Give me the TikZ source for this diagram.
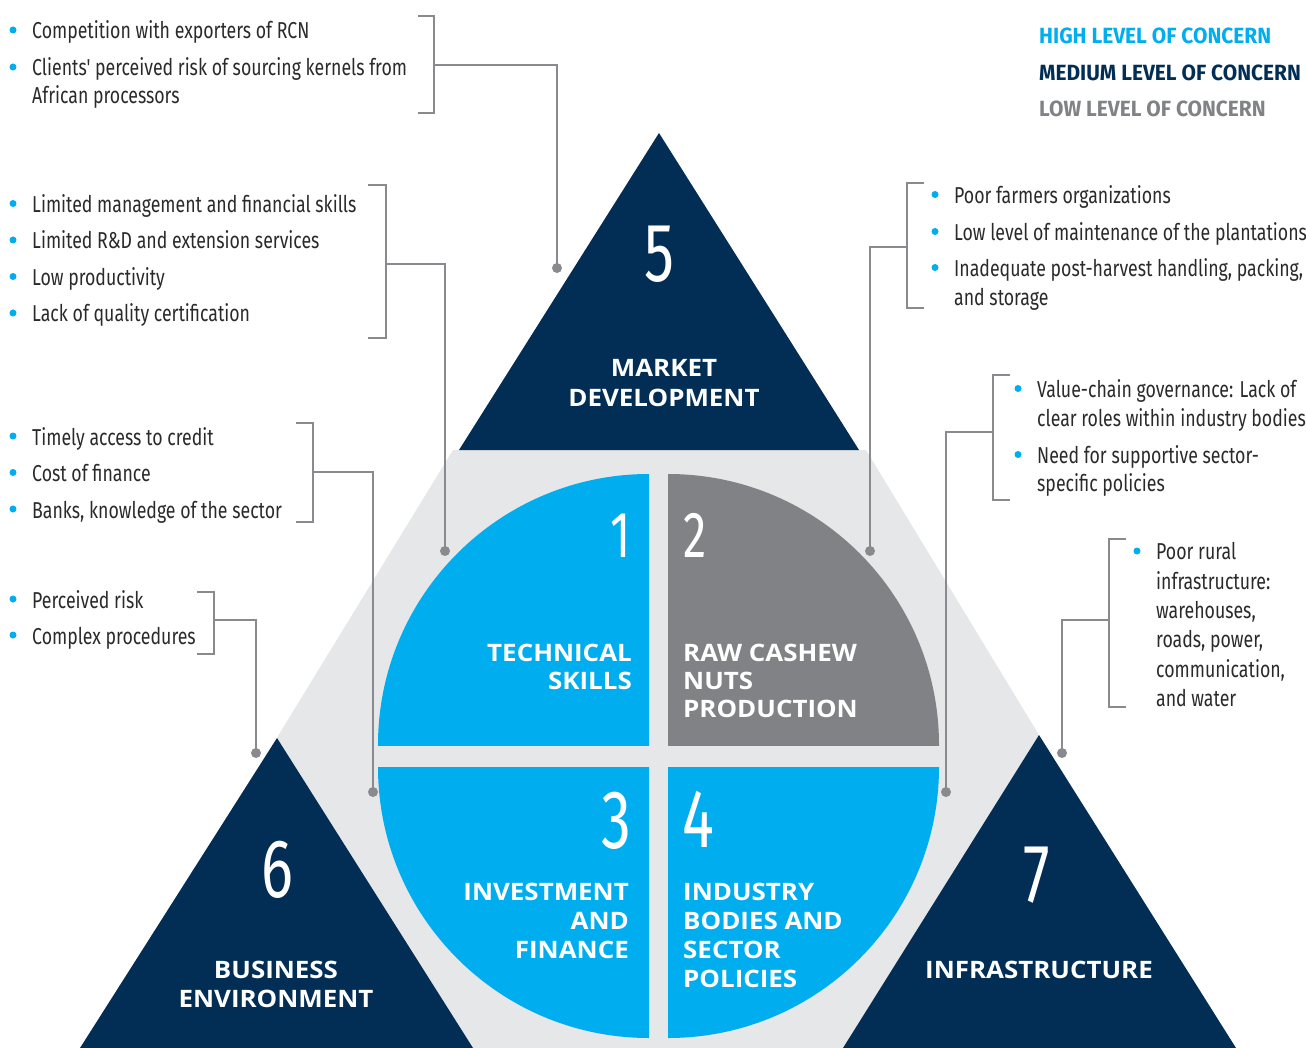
\documentclass[tikz,border=0pt]{standalone}
\usepackage{fontspec}
\newfontfamily\bodyf{Fira Sans}[FakeStretch=0.77]
\newfontfamily\legf{Fira Sans}[FakeStretch=0.95]
\newfontfamily\numf{Fira Sans}[FakeStretch=0.72]
\newfontfamily\headf{Open Sans}[FakeStretch=1.08]
\definecolor{navy}{HTML}{022E55}
\definecolor{hiblue}{HTML}{00AEEF}
\definecolor{qgray}{HTML}{808285}
\definecolor{bggray}{HTML}{E6E7E8}
\definecolor{lgray}{HTML}{898A8D}
\definecolor{txtc}{HTML}{2A2A2A}
\tikzset{
  txt/.style={anchor=base west, inner sep=0pt, text=txtc, font=\bodyf\fontsize{23}{29}\selectfont},
  bul/.style={fill=hiblue},
  conn/.style={draw=lgray, line width=2.4pt},
  dotc/.style={fill=lgray},
  head/.style={inner sep=0pt, text=white, font=\headf\bfseries\fontsize{24}{28}\selectfont},
  bignum/.style={inner sep=0pt, text=white, font=\numf\fontsize{83}{90}\selectfont},
  smallnum/.style={inner sep=0pt, text=white, font=\numf\fontsize{65}{70}\selectfont},
  leg/.style={anchor=base west, inner sep=0pt, font=\legf\bfseries\fontsize{22}{26}\selectfont},
}
\begin{document}
\begin{tikzpicture}[x=1pt,y=-1pt]
\useasboundingbox (0,0) rectangle (1306,1048);
\clip (0,0) rectangle (1306,1048);
% background grey band
\fill[bggray] (453,450) -- (866,450) -- (1229,1048) -- (87,1048) -- cycle;
% quadrants
\begin{scope}\clip (378,474) rectangle (649,745); \fill[hiblue] (649,745) circle[radius=271pt];\end{scope}
\begin{scope}\clip (668,474) rectangle (939,745); \fill[qgray] (668,745) circle[radius=271pt];\end{scope}
\begin{scope}\clip (378,767) rectangle (649,1038); \fill[hiblue] (649,767) circle[radius=271pt];\end{scope}
\begin{scope}\clip (668,767) rectangle (939,1038); \fill[hiblue] (668,767) circle[radius=271pt];\end{scope}
% triangles
\fill[navy] (659,133) -- (459,450) -- (859,450) -- cycle;
\fill[navy] (277,738) -- (80,1048) -- (473,1048) -- cycle;
\fill[navy] (1039,735) -- (843,1048) -- (1236,1048) -- cycle;

% numbers
\node[bignum, anchor=base] (n5) at (659,282) {5};
\node[bignum, anchor=base] (n6) at (277,897) {6};
\node[bignum, anchor=base] (n7) at (1037,902) {7};
\node[smallnum, anchor=base east] (n1) at (631,557) {1};
\node[smallnum, anchor=base west] (n2) at (683,557) {2};
\node[bignum, anchor=base east] (n3) at (632,848) {3};
\node[bignum, anchor=base west] (n4) at (682,847) {4};

% headings
\node[head, anchor=base] (h5a) at (664,377) {MARKET};
\node[head, anchor=base] (h5b) at (664,406) {DEVELOPMENT};
\node[head, anchor=base] (h6a) at (276,978) {BUSINESS};
\node[head, anchor=base] (h6b) at (276,1007) {ENVIRONMENT};
\node[head, anchor=base] (h7a) at (1039,978) {INFRASTRUCTURE};
\node[head, anchor=base east] (h1a) at (632,661) {TECHNICAL};
\node[head, anchor=base east] (h1b) at (632,689) {SKILLS};
\node[head, anchor=base west] (h2a) at (683,661) {RAW CASHEW};
\node[head, anchor=base west] (h2b) at (683,689) {NUTS};
\node[head, anchor=base west] (h2c) at (683,717) {PRODUCTION};
\node[head, anchor=base east] (h3a) at (629,900) {INVESTMENT};
\node[head, anchor=base east] (h3b) at (629,929) {AND};
\node[head, anchor=base east] (h3c) at (629,958) {FINANCE};
\node[head, anchor=base west] (h4a) at (683,900) {INDUSTRY};
\node[head, anchor=base west] (h4b) at (683,929) {BODIES AND};
\node[head, anchor=base west] (h4c) at (683,958) {SECTOR};
\node[head, anchor=base west] (h4d) at (683,987) {POLICIES};

% legend
\node[leg, text=hiblue] (lg1) at (1039,44) {HIGH LEVEL OF CONCERN};
\node[leg, text=navy] (lg2) at (1039,81) {MEDIUM LEVEL OF CONCERN};
\node[leg, text=qgray] (lg3) at (1039,117) {LOW LEVEL OF CONCERN};

% ---- left text groups
\node[txt] (a1) at (32,39) {Competition with exporters of RCN};
\node[txt] (a2) at (32,76) {Clients' perceived risk of sourcing kernels from};
\node[txt] (a3) at (32,104) {African processors};
\fill[bul] (13,30) circle[radius=3.5pt] (13,67) circle[radius=3.5pt];

\node[txt] (b1) at (32,212.5) {Limited management and financial skills};
\node[txt] (b2) at (32,249) {Limited R\&D and extension services};
\node[txt] (b3) at (32,285.5) {Low productivity};
\node[txt] (b4) at (32,322) {Lack of quality certification};
\fill[bul] (13,203.5) circle[radius=3.5pt] (13,240) circle[radius=3.5pt] (13,276.5) circle[radius=3.5pt] (13,313) circle[radius=3.5pt];

\node[txt] (c1) at (32,445) {Timely access to credit};
\node[txt] (c2) at (32,481.5) {Cost of finance};
\node[txt] (c3) at (32,518) {Banks, knowledge of the sector};
\fill[bul] (13,436) circle[radius=3.5pt] (13,472.5) circle[radius=3.5pt] (13,509) circle[radius=3.5pt];

\node[txt] (e1) at (32,608) {Perceived risk};
\node[txt] (e2) at (32,644) {Complex procedures};
\fill[bul] (13,599) circle[radius=3.5pt] (13,635) circle[radius=3.5pt];

% ---- right text groups
\node[txt] (f1) at (954,203.5) {Poor farmers organizations};
\node[txt] (f2) at (954,240.5) {Low level of maintenance of the plantations};
\node[txt] (f3) at (954,276.5) {Inadequate post-harvest handling, packing,};
\node[txt] (f4) at (954,305.5) {and storage};
\fill[bul] (935,194.5) circle[radius=3.5pt] (935,231.5) circle[radius=3.5pt] (935,267.5) circle[radius=3.5pt];

\node[txt] (g1) at (1037,397.5) {Value-chain governance: Lack of};
\node[txt] (g2) at (1037,426) {clear roles within industry bodies};
\node[txt] (g3) at (1037,463.5) {Need for supportive sector-};
\node[txt] (g4) at (1037,491) {specific policies};
\fill[bul] (1018,388.5) circle[radius=3.5pt] (1018,454.5) circle[radius=3.5pt];

\node[txt] (k1) at (1156,559.5) {Poor rural};
\node[txt] (k2) at (1156,589) {infrastructure:};
\node[txt] (k3) at (1156,618.5) {warehouses,};
\node[txt] (k4) at (1156,647.5) {roads, power,};
\node[txt] (k5) at (1156,677) {communication,};
\node[txt] (k6) at (1156,706) {and water};
\fill[bul] (1137,551) circle[radius=3.5pt];

% ---- connectors
\coordinate (p1) at (557,268);
\coordinate (p2) at (445,551);
\coordinate (p3) at (373,792);
\coordinate (p4) at (256,753);
\coordinate (p5) at (870,551);
\coordinate (p6) at (946,792);
\coordinate (p7) at (1062,753);
\coordinate (m1) at (434,65);
\coordinate (m2) at (386,264);
\coordinate (m3) at (313,472);
\coordinate (m4) at (214,620);
\coordinate (m5) at (907,247);
\coordinate (m6) at (993,432);
\coordinate (m7) at (1109,620);

\draw[conn] (418,16) -| (434,113) -- (418,113);
\draw[conn] (368,185) -| (386,338) -- (368,338);
\draw[conn] (296,423) -| (313,522) -- (296,522);
\draw[conn] (197,592) -| (214,654) -- (197,654);
\draw[conn] (924,183) -| (907,308) -- (924,308);
\draw[conn] (1010,375) -| (993,500) -- (1010,500);
\draw[conn] (1126,539) -| (1109,707) -- (1126,707);

\draw[conn] (m1) -| (p1);
\draw[conn] (m2) -| (p2);
\draw[conn] (m3) -| (p3);
\draw[conn] (m4) -| (p4);
\draw[conn] (m5) -| (p5);
\draw[conn] (m6) -| (p6);
\draw[conn] (m7) -| (p7);
\foreach \p in {p1,p2,p3,p4,p5,p6,p7} \fill[dotc] (\p) circle[radius=5pt];
\end{tikzpicture}
\end{document}
